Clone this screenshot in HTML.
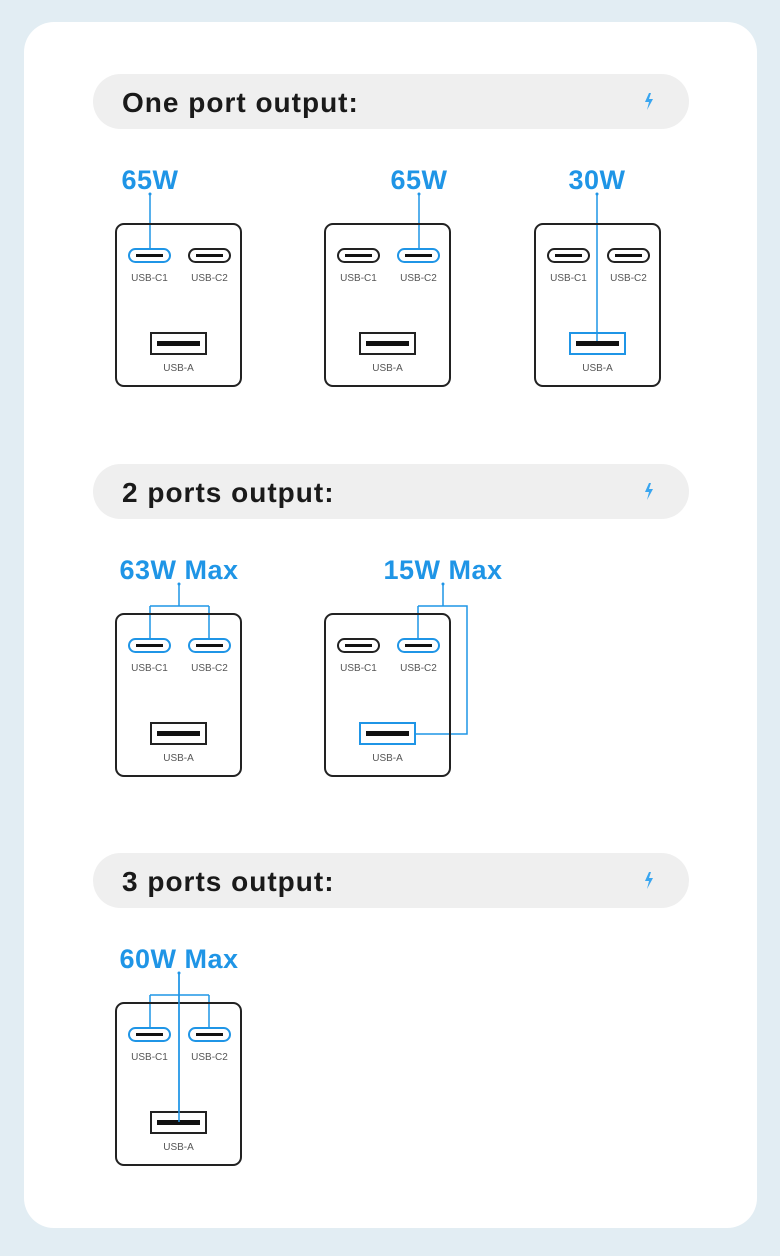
<!DOCTYPE html>
<html><head><meta charset="utf-8"><style>
html,body{margin:0;padding:0;background:#e2edf3;}
svg{display:block;}
text{font-family:"Liberation Sans",sans-serif;}
</style></head><body>
<svg width="780" height="1256" viewBox="0 0 780 1256" xmlns="http://www.w3.org/2000/svg">
<defs>
<g id="boltI"><path d="M4 0 L0 9 L4 9 L2 17 L8 6 L4 6 L6 0 Z" fill="#3aa6f0"/></g>
</defs>
<rect x="0" y="0" width="780" height="1256" fill="#e2edf3"/>
<rect x="24" y="22" width="733" height="1206" rx="30" fill="#fff"/>

<rect x="93" y="74" width="596" height="55" rx="27.5" fill="#efefef"/>
<text x="122" y="112" font-size="28" font-weight="bold" fill="#1a1a1a" letter-spacing="1">One port output:</text>
<use href="#boltI" x="645" y="93"/>
<rect x="93" y="464" width="596" height="55" rx="27.5" fill="#efefef"/>
<text x="122" y="502" font-size="28" font-weight="bold" fill="#1a1a1a" letter-spacing="1">2 ports output:</text>
<use href="#boltI" x="645" y="483"/>
<rect x="93" y="853" width="596" height="55" rx="27.5" fill="#efefef"/>
<text x="122" y="891" font-size="28" font-weight="bold" fill="#1a1a1a" letter-spacing="1">3 ports output:</text>
<use href="#boltI" x="645" y="872"/>

<g font-size="27" font-weight="bold" fill="#1f95e6" text-anchor="middle" letter-spacing="0.5">
<text x="150" y="189">65W</text>
<text x="419" y="189">65W</text>
<text x="597" y="189">30W</text>
<text x="179" y="579">63W Max</text>
<text x="443" y="579">15W Max</text>
<text x="179" y="968">60W Max</text>
</g>

<g stroke="#1f95e6" stroke-width="1.5" fill="none">
<path d="M150 194 V249"/>
<path d="M419 194 V249"/>
<path d="M597 194 V333"/>
<path d="M179 584 V606 M150 606 H209 M150 606 V639 M209 606 V639"/>
<path d="M443 584 V606 M418 606 H467 V734 H416 M418 606 V639"/>
<path d="M179 973 V1124 M150 995 H209 M150 995 V1028 M209 995 V1028"/>
</g>
<g fill="#1f95e6">
<circle cx="150" cy="194" r="1.5"/><circle cx="419" cy="194" r="1.5"/><circle cx="597" cy="194" r="1.5"/>
<circle cx="179" cy="584" r="1.5"/><circle cx="443" cy="584" r="1.5"/><circle cx="179" cy="973" r="1.5"/>
</g>

<g transform="translate(116,224)">
<rect x="0" y="0" width="125" height="162" rx="8" fill="none" stroke="#222" stroke-width="2"/>
<rect x="13" y="25" width="41" height="13" rx="6.5" fill="#fff" stroke="#1f95e6" stroke-width="2"/>
<rect x="20" y="30" width="27" height="3" fill="#111"/>
<rect x="73" y="25" width="41" height="13" rx="6.5" fill="#fff" stroke="#222" stroke-width="2"/>
<rect x="80" y="30" width="27" height="3" fill="#111"/>
<rect x="35" y="109" width="55" height="21" fill="#fff" stroke="#222" stroke-width="2"/>
<rect x="41" y="117" width="43" height="5" fill="#111"/>
<g font-size="10" fill="#555" text-anchor="middle"><text x="33.5" y="57">USB-C1</text><text x="93.5" y="57">USB-C2</text><text x="62.5" y="147">USB-A</text></g>
</g>
<g transform="translate(325,224)">
<rect x="0" y="0" width="125" height="162" rx="8" fill="none" stroke="#222" stroke-width="2"/>
<rect x="13" y="25" width="41" height="13" rx="6.5" fill="#fff" stroke="#222" stroke-width="2"/>
<rect x="20" y="30" width="27" height="3" fill="#111"/>
<rect x="73" y="25" width="41" height="13" rx="6.5" fill="#fff" stroke="#1f95e6" stroke-width="2"/>
<rect x="80" y="30" width="27" height="3" fill="#111"/>
<rect x="35" y="109" width="55" height="21" fill="#fff" stroke="#222" stroke-width="2"/>
<rect x="41" y="117" width="43" height="5" fill="#111"/>
<g font-size="10" fill="#555" text-anchor="middle"><text x="33.5" y="57">USB-C1</text><text x="93.5" y="57">USB-C2</text><text x="62.5" y="147">USB-A</text></g>
</g>
<g transform="translate(535,224)">
<rect x="0" y="0" width="125" height="162" rx="8" fill="none" stroke="#222" stroke-width="2"/>
<rect x="13" y="25" width="41" height="13" rx="6.5" fill="#fff" stroke="#222" stroke-width="2"/>
<rect x="20" y="30" width="27" height="3" fill="#111"/>
<rect x="73" y="25" width="41" height="13" rx="6.5" fill="#fff" stroke="#222" stroke-width="2"/>
<rect x="80" y="30" width="27" height="3" fill="#111"/>
<rect x="35" y="109" width="55" height="21" fill="#fff" stroke="#1f95e6" stroke-width="2"/>
<rect x="41" y="117" width="43" height="5" fill="#111"/>
<line x1="62" y1="109" x2="62" y2="117" stroke="#1f95e6" stroke-width="1.5"/>
<g font-size="10" fill="#555" text-anchor="middle"><text x="33.5" y="57">USB-C1</text><text x="93.5" y="57">USB-C2</text><text x="62.5" y="147">USB-A</text></g>
</g>
<g transform="translate(116,614)">
<rect x="0" y="0" width="125" height="162" rx="8" fill="none" stroke="#222" stroke-width="2"/>
<rect x="13" y="25" width="41" height="13" rx="6.5" fill="#fff" stroke="#1f95e6" stroke-width="2"/>
<rect x="20" y="30" width="27" height="3" fill="#111"/>
<rect x="73" y="25" width="41" height="13" rx="6.5" fill="#fff" stroke="#1f95e6" stroke-width="2"/>
<rect x="80" y="30" width="27" height="3" fill="#111"/>
<rect x="35" y="109" width="55" height="21" fill="#fff" stroke="#222" stroke-width="2"/>
<rect x="41" y="117" width="43" height="5" fill="#111"/>
<g font-size="10" fill="#555" text-anchor="middle"><text x="33.5" y="57">USB-C1</text><text x="93.5" y="57">USB-C2</text><text x="62.5" y="147">USB-A</text></g>
</g>
<g transform="translate(325,614)">
<rect x="0" y="0" width="125" height="162" rx="8" fill="none" stroke="#222" stroke-width="2"/>
<rect x="13" y="25" width="41" height="13" rx="6.5" fill="#fff" stroke="#222" stroke-width="2"/>
<rect x="20" y="30" width="27" height="3" fill="#111"/>
<rect x="73" y="25" width="41" height="13" rx="6.5" fill="#fff" stroke="#1f95e6" stroke-width="2"/>
<rect x="80" y="30" width="27" height="3" fill="#111"/>
<rect x="35" y="109" width="55" height="21" fill="#fff" stroke="#1f95e6" stroke-width="2"/>
<rect x="41" y="117" width="43" height="5" fill="#111"/>
<g font-size="10" fill="#555" text-anchor="middle"><text x="33.5" y="57">USB-C1</text><text x="93.5" y="57">USB-C2</text><text x="62.5" y="147">USB-A</text></g>
</g>
<g transform="translate(116,1003)">
<rect x="0" y="0" width="125" height="162" rx="8" fill="none" stroke="#222" stroke-width="2"/>
<rect x="13" y="25" width="41" height="13" rx="6.5" fill="#fff" stroke="#1f95e6" stroke-width="2"/>
<rect x="20" y="30" width="27" height="3" fill="#111"/>
<rect x="73" y="25" width="41" height="13" rx="6.5" fill="#fff" stroke="#1f95e6" stroke-width="2"/>
<rect x="80" y="30" width="27" height="3" fill="#111"/>
<rect x="35" y="109" width="55" height="21" fill="#fff" stroke="#222" stroke-width="2"/>
<rect x="41" y="117" width="43" height="5" fill="#111"/>
<line x1="63" y1="-30" x2="63" y2="119" stroke="#1f95e6" stroke-width="1.5"/>
<g font-size="10" fill="#555" text-anchor="middle"><text x="33.5" y="57">USB-C1</text><text x="93.5" y="57">USB-C2</text><text x="62.5" y="147">USB-A</text></g>
</g>
</svg>
</body></html>
